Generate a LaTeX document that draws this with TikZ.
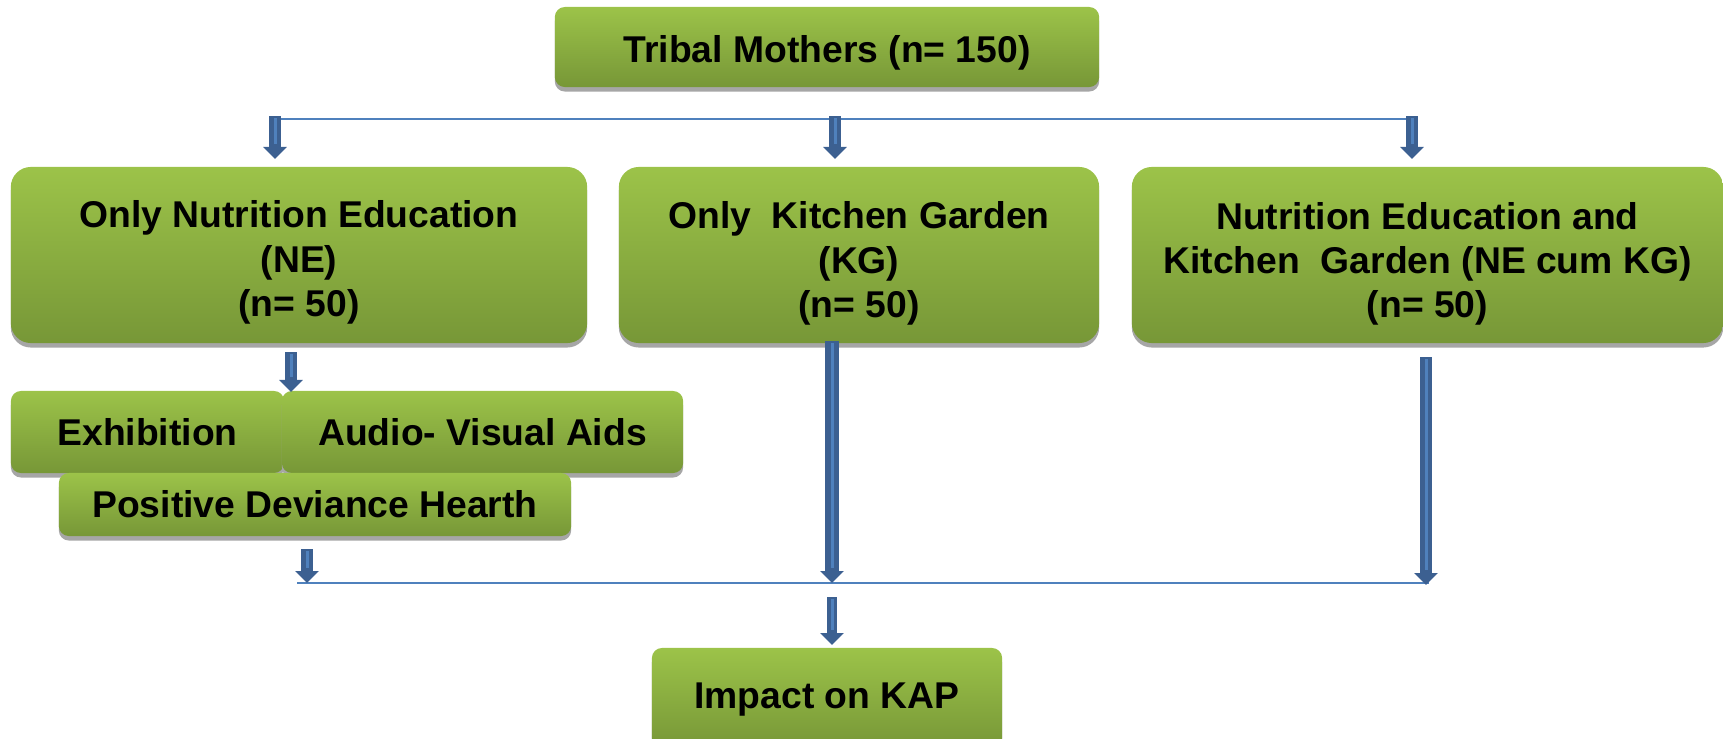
\documentclass[tikz,border=0pt]{standalone}
\usepackage{fontspec}
\setmainfont{Liberation Sans}
\usetikzlibrary{arrows.meta,shadows,positioning}
\definecolor{greentop}{RGB}{156,195,73}
\definecolor{greenbot}{RGB}{119,151,55}
\definecolor{shadowgray}{RGB}{166,166,166}
\definecolor{arrowdark}{RGB}{60,96,145}
\definecolor{arrowlight}{RGB}{79,129,189}
\tikzset{
  stagebox/.style={rounded corners=0.2cm, top color=greentop, bottom color=greenbot,
    inner sep=0pt,
    drop shadow={shadow xshift=0cm, shadow yshift=-0.045cm, fill=shadowgray, opacity=1}},
  smallbox/.style={stagebox, rounded corners=0.1cm},
  boxtext/.style={align=center, inner sep=0pt, font=\fontsize{10.6}{12.6}\selectfont\bfseries},
  blockarrow/.style={draw=arrowdark, line width=0.125cm,
    -{Triangle[length=0.12cm 0, width=0.23cm 0]},
    postaction={draw=arrowlight, line width=0.03cm, -, shorten >=0.15cm, shorten <=0.02cm}},
  joinline/.style={draw=arrowlight, line width=0.022cm},
}
\begin{document}
\begin{tikzpicture}[x=0.01cm,y=-0.01cm]
		\useasboundingbox (0,0) rectangle (1723,739);
		% boxes
		\node[smallbox, minimum width=5.44cm, minimum height=0.80cm,
			label={[boxtext, yshift=-0.06cm]center:{Tribal Mothers (n= 150)}}] (mothers) at (827,47) {};
		\node[stagebox, minimum width=5.76cm, minimum height=1.76cm,
			label={[boxtext, yshift=-0.075cm]center:{Only Nutrition Education\\(NE)\\(n= 50)}}] (ne) at (299,255) {};
		\node[stagebox, minimum width=4.80cm, minimum height=1.76cm,
			label={[boxtext, yshift=-0.085cm]center:{Only\ \ Kitchen Garden\\(KG)\\(n= 50)}}] (kg) at (859,255) {};
		\node[stagebox, minimum width=5.91cm, minimum height=1.76cm,
			label={[boxtext, yshift=-0.09cm]center:{Nutrition Education and\\Kitchen\ \ Garden (NE cum KG)\\(n= 50)}}] (both) at (1427.5,255) {};
		\node[smallbox, minimum width=2.73cm, minimum height=0.82cm,
			label={[boxtext]center:{Exhibition}}] (exhib) at (147.5,432) {};
		\node[smallbox, minimum width=4.01cm, minimum height=0.82cm,
			label={[boxtext]center:{Audio- Visual Aids}}] (avaids) at (482.5,432) {};
		\node[smallbox, minimum width=5.12cm, minimum height=0.63cm,
			label={[boxtext]center:{Positive Deviance Hearth}}] (pdh) at (315,504.5) {};
		\node[smallbox, minimum width=3.50cm, minimum height=1.00cm,
			label={[boxtext, yshift=-0.02cm]center:{Impact on KAP}}] (kap) at (827,698) {};
		% split line
		\coordinate (splitL) at (269,119);
		\coordinate (splitR) at (1412,119);
		\draw[joinline] (splitL) -- (splitR);
		\coordinate (neTop) at (275,116);   \coordinate (neEnd) at (275,159);
		\coordinate (kgTop) at (835,116);   \coordinate (kgEnd) at (835,159);
		\coordinate (bothTop) at (1412,116); \coordinate (bothEnd) at (1412,159);
		\draw[blockarrow] (neTop) -- (neEnd);
		\draw[blockarrow] (kgTop) -- (kgEnd);
		\draw[blockarrow] (bothTop) -- (bothEnd);
		% NE methods
		\coordinate (neOut) at (291,352); \coordinate (meth) at (291,392);
		\draw[blockarrow] (neOut) -- (meth);
		% join line
		\coordinate (joinL) at (297,583);
		\coordinate (joinR) at (1429,583);
		\draw[joinline] (joinL) -- (joinR);
		\coordinate (pdhOut) at (307,549); \coordinate (pdhEnd) at (307,583);
		\coordinate (kgOut) at (832,341);  \coordinate (kgJoin) at (832,583);
		\coordinate (bothOut) at (1426,357); \coordinate (bothJoin) at (1426,585);
		\draw[blockarrow] (pdhOut) -- (pdhEnd);
		\draw[blockarrow, line width=0.14cm] (kgOut) -- (kgJoin);
		\draw[blockarrow] (bothOut) -- (bothJoin);
		\coordinate (kapIn) at (832,597); \coordinate (kapEnd) at (832,645);
		\draw[blockarrow, line width=0.1cm] (kapIn) -- (kapEnd);
	\end{tikzpicture}
\end{document}
